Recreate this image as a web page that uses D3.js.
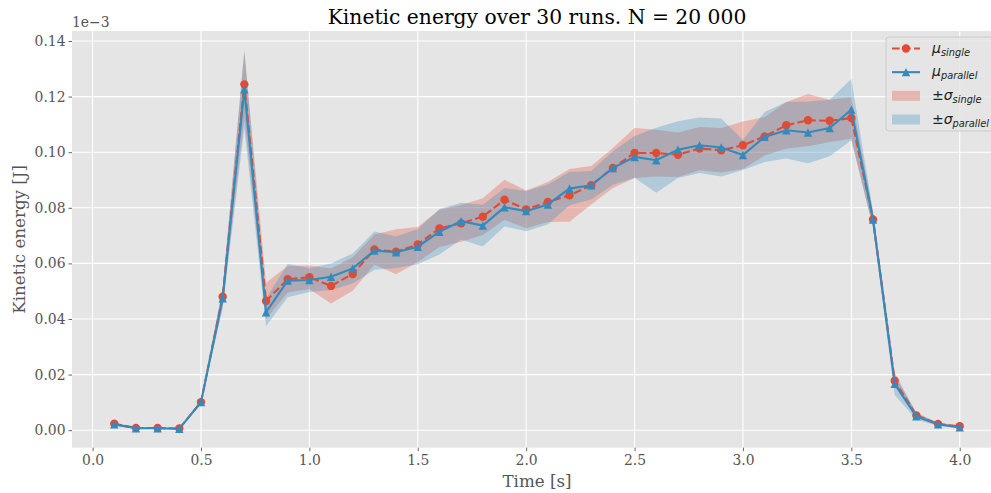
<!DOCTYPE html>
<html>
<head>
<meta charset="utf-8">
<script src="https://cdn.jsdelivr.net/npm/d3@7"></script>
<style>
  body { margin: 0; background: #fff; }
  svg { display: block; }
</style>
</head>
<body>
<svg width="991" height="493"></svg>
<script>
////////////////////////////// DATA //////////////////////////////
// kinetic energy, in units of 1e-3 J (the axis shows the 1e-3 offset)

var times = [0.1, 0.2, 0.3, 0.4, 0.5, 0.6, 0.7, 0.8, 0.9, 1.0,
             1.1, 1.2, 1.3, 1.4, 1.5, 1.6, 1.7, 1.8, 1.9, 2.0,
             2.1, 2.2, 2.3, 2.4, 2.5, 2.6, 2.7, 2.8, 2.9, 3.0,
             3.1, 3.2, 3.3, 3.4, 3.5, 3.6, 3.7, 3.8, 3.9, 4.0];

var muSingle = [0.0023, 0.0008, 0.0008, 0.0006, 0.0101, 0.0480, 0.1244, 0.0465, 0.0543, 0.0550,
                0.0519, 0.0562, 0.0650, 0.0642, 0.0668, 0.0726, 0.0744, 0.0768, 0.0829, 0.0794,
                0.0821, 0.0845, 0.0881, 0.0943, 0.0997, 0.0997, 0.0991, 0.1013, 0.1007, 0.1025,
                0.1057, 0.1097, 0.1115, 0.1113, 0.1123, 0.0758, 0.0178, 0.0053, 0.0022, 0.0014];

var muParallel = [0.0021, 0.0007, 0.0007, 0.0005, 0.0101, 0.0474, 0.1226, 0.0424, 0.0538, 0.0540,
                  0.0552, 0.0582, 0.0646, 0.0640, 0.0660, 0.0714, 0.0752, 0.0736, 0.0802, 0.0788,
                  0.0812, 0.0869, 0.0881, 0.0943, 0.0983, 0.0971, 0.1009, 0.1025, 0.1017, 0.0990,
                  0.1055, 0.1079, 0.1071, 0.1087, 0.1153, 0.0758, 0.0167, 0.0050, 0.0021, 0.0010];

var sdSingle = [0.0005, 0.0003, 0.0003, 0.0003, 0.0008, 0.0035, 0.0120, 0.0065, 0.0048, 0.0042,
                0.0063, 0.0060, 0.0054, 0.0081, 0.0063, 0.0067, 0.0066, 0.0066, 0.0072, 0.0068,
                0.0072, 0.0095, 0.0069, 0.0072, 0.0090, 0.0084, 0.0080, 0.0078, 0.0080, 0.0085,
                0.0069, 0.0084, 0.0094, 0.0076, 0.0075, 0.0030, 0.0020, 0.0010, 0.0005, 0.0004];

var sdParallel = [0.0005, 0.0003, 0.0003, 0.0003, 0.0008, 0.0035, 0.0140, 0.0050, 0.0060, 0.0043,
                  0.0048, 0.0054, 0.0069, 0.0057, 0.0063, 0.0082, 0.0066, 0.0075, 0.0069, 0.0072,
                  0.0072, 0.0060, 0.0051, 0.0060, 0.0075, 0.0117, 0.0102, 0.0100, 0.0104, 0.0054,
                  0.0090, 0.0102, 0.0111, 0.0102, 0.0110, 0.0030, 0.0040, 0.0012, 0.0006, 0.0004];

var xTicks = [0.0, 0.5, 1.0, 1.5, 2.0, 2.5, 3.0, 3.5, 4.0];
var yTicks = [0.00, 0.02, 0.04, 0.06, 0.08, 0.10, 0.12, 0.14];

////////////////////////////// SET VIS PARAMS //////////////////////////////

var svg = d3.select("svg");

var red = "#E24A33",
    blue = "#348ABD",
    bg = "#E5E5E5",
    tickColor = "#555555",
    serif = "'DejaVu Serif', serif",
    sans = "'DejaVu Sans', sans-serif";

// axes box (right side runs past the image edge, as in the original)
var box = {left: 72, right: 1002, top: 31, bottom: 447.7};

var x = d3.scaleLinear().domain([-0.095, 4.195]).range([box.left, box.right]);
var y = d3.scaleLinear().domain([-0.0063, 0.1436]).range([box.bottom, box.top]);

var rows = times.map(function(t, i) {
    return {t: t, ms: muSingle[i], mp: muParallel[i], ss: sdSingle[i], sp: sdParallel[i]};
});

////////////////////////////// DRAW //////////////////////////////

svg.append("defs").append("clipPath").attr("id", "clip")
    .append("rect").attr("x", box.left).attr("y", box.top)
    .attr("width", box.right - box.left).attr("height", box.bottom - box.top);

svg.append("rect")
    .attr("x", box.left).attr("y", box.top)
    .attr("width", box.right - box.left).attr("height", box.bottom - box.top)
    .attr("fill", bg);

// grid
var grid = svg.append("g").attr("class", "grid");
grid.selectAll("line.gx").data(xTicks).enter().append("line")
    .attr("x1", function(d) { return x(d); }).attr("x2", function(d) { return x(d); })
    .attr("y1", box.top).attr("y2", box.bottom)
    .attr("stroke", "#fff").attr("stroke-width", 1.1);
grid.selectAll("line.gy").data(yTicks).enter().append("line")
    .attr("y1", function(d) { return y(d); }).attr("y2", function(d) { return y(d); })
    .attr("x1", box.left).attr("x2", box.right)
    .attr("stroke", "#fff").attr("stroke-width", 1.1);

// axes
var xAxis = svg.append("g")
    .attr("transform", "translate(0," + box.bottom + ")")
    .call(d3.axisBottom(x).tickValues(xTicks).tickFormat(d3.format(".1f")).tickSizeOuter(0).tickSize(3.5).tickPadding(4));
var yAxis = svg.append("g")
    .attr("transform", "translate(" + box.left + ",0)")
    .call(d3.axisLeft(y).tickValues(yTicks).tickFormat(d3.format(".2f")).tickSizeOuter(0).tickSize(3.5).tickPadding(3));

[xAxis, yAxis].forEach(function(ax) {
    ax.select(".domain").remove();
    ax.selectAll(".tick line").attr("stroke", tickColor).attr("stroke-width", 0.9);
    ax.selectAll(".tick text")
        .attr("fill", tickColor)
        .style("font-family", serif)
        .style("font-size", "13.9px");
});

// bands + lines
var plot = svg.append("g").attr("clip-path", "url(#clip)");

var bandSingle = d3.area()
    .x(function(d) { return x(d.t); })
    .y0(function(d) { return y(d.ms - d.ss); })
    .y1(function(d) { return y(d.ms + d.ss); });
var bandParallel = d3.area()
    .x(function(d) { return x(d.t); })
    .y0(function(d) { return y(d.mp - d.sp); })
    .y1(function(d) { return y(d.mp + d.sp); });

plot.append("path").datum(rows).attr("d", bandSingle)
    .attr("fill", red).attr("fill-opacity", 0.3);
plot.append("path").datum(rows).attr("d", bandParallel)
    .attr("fill", blue).attr("fill-opacity", 0.3);

var lineSingle = d3.line()
    .x(function(d) { return x(d.t); })
    .y(function(d) { return y(d.ms); });
var lineParallel = d3.line()
    .x(function(d) { return x(d.t); })
    .y(function(d) { return y(d.mp); });

plot.append("path").datum(rows).attr("d", lineSingle)
    .attr("fill", "none").attr("stroke", red).attr("stroke-width", 2.1)
    .attr("stroke-dasharray", "7.7,3.3");
plot.selectAll("circle.ms").data(rows).enter().append("circle")
    .attr("cx", function(d) { return x(d.t); })
    .attr("cy", function(d) { return y(d.ms); })
    .attr("r", 4.2).attr("fill", red);

plot.append("path").datum(rows).attr("d", lineParallel)
    .attr("fill", "none").attr("stroke", blue).attr("stroke-width", 2.1);

function triangle(cx, cy, r) {
    return "M" + cx + "," + (cy - r) + "L" + (cx - r) + "," + (cy + r) + "L" + (cx + r) + "," + (cy + r) + "Z";
}
plot.selectAll("path.mp").data(rows).enter().append("path")
    .attr("d", function(d) { return triangle(x(d.t), y(d.mp), 4.2); })
    .attr("fill", blue);

// offset text + labels + title
svg.append("text").attr("x", box.left).attr("y", 27)
    .attr("fill", tickColor).style("font-family", serif).style("font-size", "13.9px")
    .text("1e\u22123");

svg.append("text").attr("x", (box.left + box.right) / 2).attr("y", 487)
    .attr("text-anchor", "middle").attr("fill", tickColor)
    .style("font-family", serif).style("font-size", "16.7px")
    .text("Time [s]");

svg.append("text")
    .attr("transform", "translate(25," + ((box.top + box.bottom) / 2) + ") rotate(-90)")
    .attr("text-anchor", "middle").attr("fill", tickColor)
    .style("font-family", serif).style("font-size", "16.7px")
    .text("Kinetic energy [J]");

svg.append("text").attr("x", (box.left + box.right) / 2).attr("y", 24)
    .attr("text-anchor", "middle").attr("fill", "#000")
    .style("font-family", serif).style("font-size", "20.3px")
    .text("Kinetic energy over 30 runs. N = 20 000");

////////////////////////////// LEGEND //////////////////////////////

var legend = svg.append("g").attr("class", "legend");
legend.append("rect")
    .attr("x", 886).attr("y", 37).attr("width", 110).attr("height", 94)
    .attr("rx", 3).attr("fill", bg).attr("fill-opacity", 0.8)
    .attr("stroke", "#CCCCCC").attr("stroke-width", 1);

var entries = [
    {kind: "line", color: red, dash: "7.7,3.3", sym: "\u03bc", pre: "", sub: "single"},
    {kind: "line", color: blue, dash: null, sym: "\u03bc", pre: "", sub: "parallel"},
    {kind: "patch", color: red, sym: "\u03c3", pre: "\u00b1", sub: "single"},
    {kind: "patch", color: blue, sym: "\u03c3", pre: "\u00b1", sub: "parallel"}
];
var entryY = d3.scalePoint().domain(d3.range(entries.length)).range([48.5, 119.5]);

entries.forEach(function(e, i) {
    var cy = entryY(i);
    if (e.kind == "line") {
        legend.append("line").attr("x1", 892).attr("x2", 920).attr("y1", cy).attr("y2", cy)
            .attr("stroke", e.color).attr("stroke-width", 2.1)
            .attr("stroke-dasharray", e.dash);
        if (i == 0) {
            legend.append("circle").attr("cx", 906).attr("cy", cy).attr("r", 4.2).attr("fill", e.color);
        } else {
            legend.append("path").attr("d", triangle(906, cy, 4.2)).attr("fill", e.color);
        }
    } else {
        legend.append("rect").attr("x", 892).attr("y", cy - 5).attr("width", 28).attr("height", 10)
            .attr("fill", e.color).attr("fill-opacity", 0.3);
    }
    var t = legend.append("text").attr("x", 932).attr("y", cy + 4)
        .attr("fill", "#222").style("font-family", sans).style("font-size", "14px");
    if (e.pre) t.append("tspan").text(e.pre);
    t.append("tspan").style("font-style", "italic").text(e.sym);
    t.append("tspan").attr("dy", 3).style("font-style", "italic").style("font-size", "9.8px").text(e.sub);
});
</script>
</body>
</html>
